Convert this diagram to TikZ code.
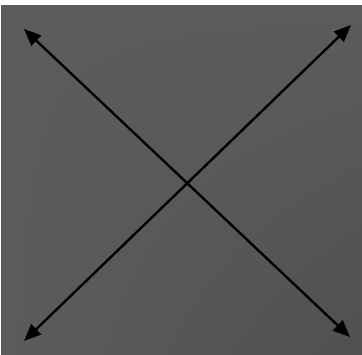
\documentclass[tikz,border=0pt]{standalone}
\usetikzlibrary{arrows.meta,shadings}
\definecolor{bggray}{RGB}{92,92,92}
\definecolor{bgdark}{RGB}{80,80,80}
\tikzset{
  dblarrow/.style={line width=2.4pt, draw=black,
    {Triangle[length=17pt,width=14pt]}-{Triangle[length=17pt,width=14pt]}}
}
\begin{document}
\begin{tikzpicture}[x=1pt,y=-1pt]
  \fill[white] (0,0) rectangle (362,354);
  \shade[upper left=bggray, upper right=bggray, lower left=bggray, lower right=bgdark] (1,5) rectangle (362,354);
  \useasboundingbox (0,0) rectangle (362,354);
  \coordinate (tl) at (24,29);
  \coordinate (br) at (350,337);
  \coordinate (tr) at (351,25);
  \coordinate (bl) at (24,341);
  \draw[dblarrow] (tl) -- (br);
  \draw[dblarrow] (bl) -- (tr);
\end{tikzpicture}
\end{document}
